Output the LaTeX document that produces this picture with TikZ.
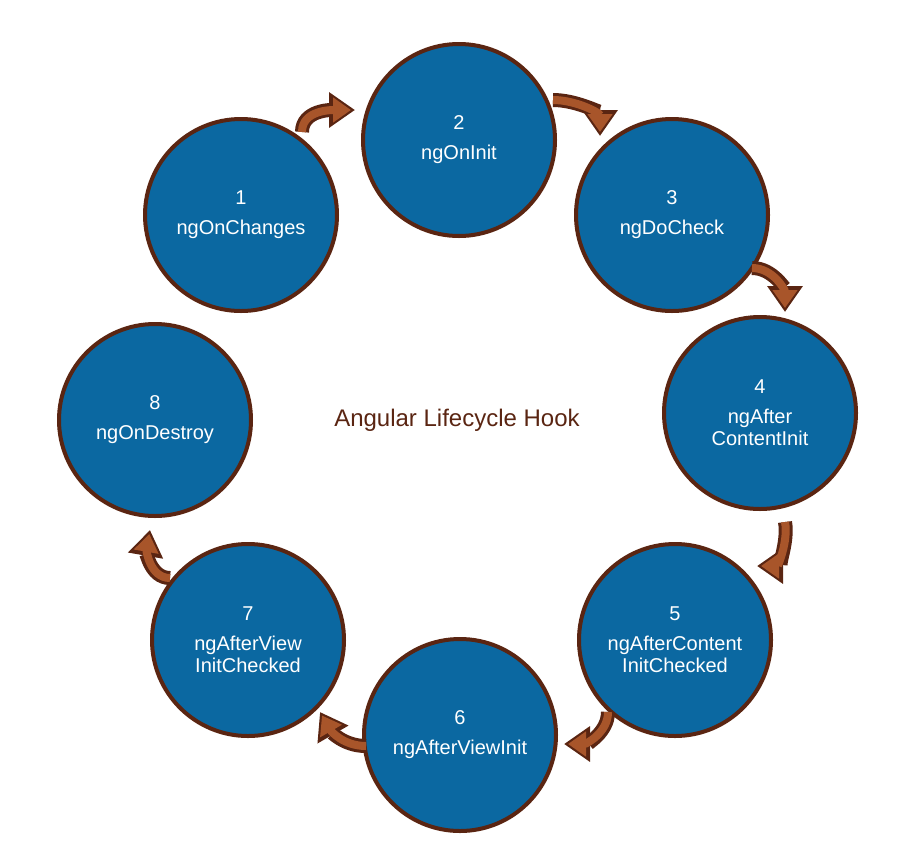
\documentclass[tikz,border=0pt]{standalone}
\usepackage{fontspec}
\setmainfont{Liberation Sans}
\usetikzlibrary{arrows.meta}
\definecolor{hookblue}{HTML}{0B68A1}
\definecolor{hookbrown}{HTML}{5A2512}
\definecolor{hookarrow}{HTML}{A8552A}
\tikzset{
  hook/.style={circle, draw=hookbrown, line width=4pt, fill=hookblue,
    minimum size=192pt, text=white, align=center,
    font=\fontsize{20}{30}\selectfont},
  flowout/.style={hookbrown, line width=14pt, -{Triangle[length=26pt,width=34pt]}},
  flowin/.style={hookarrow, line width=8pt, -{Triangle[length=18pt,width=24pt]}, shorten >=4pt},
}
\newcommand{\flow}[1]{\draw[flowout] #1; \draw[flowin] #1;}
\begin{document}
\begin{tikzpicture}[x=1pt,y=-1pt]
  \useasboundingbox (0,0) rectangle (920,860);
  % circles
  \node[hook] (h1) at (241,215) {1\\ngOnChanges};
  \node[hook] (h2) at (459,140) {2\\ngOnInit};
  \node[hook] (h3) at (672,215) {3\\ngDoCheck};
  \node[hook] (h4) at (760,413) {4\\ngAfter\\[-8pt]ContentInit};
  \node[hook] (h5) at (675,640) {5\\ngAfterContent\\[-8pt]InitChecked};
  \node[hook] (h6) at (460,735) {6\\ngAfterViewInit};
  \node[hook] (h7) at (248,640) {7\\ngAfterView\\[-8pt]InitChecked};
  \node[hook] (h8) at (155,420) {8\\ngOnDestroy};
  \node[text=hookbrown, font=\fontsize{24}{28}\selectfont] (title) at (457,420) {Angular Lifecycle Hook};
  % arrows
  \flow{(302,132) to[out=-90+180,in=180] (355,110)}
  \flow{(553,100) to[out=0,in=90] (600,136)}
  \flow{(752,268) to[out=0,in=90] (785,312)}
  \flow{(785,522) to[out=-80,in=0] (757,566)}
  \flow{(608,712) to[out=-90,in=0] (564,744)}
  \flow{(366,746) to[out=180,in=-60] (320,712)}
  \flow{(170,578) to[out=180,in=-100] (150,530)}
\end{tikzpicture}
\end{document}
